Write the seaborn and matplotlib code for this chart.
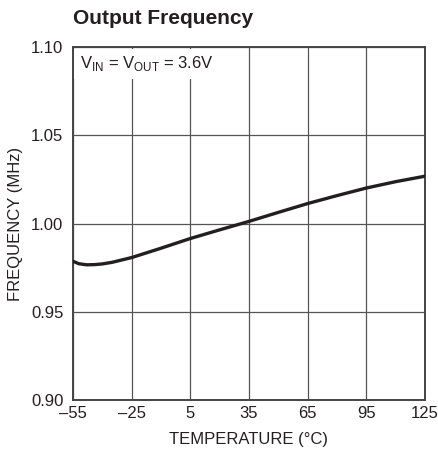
import matplotlib
matplotlib.use("Agg")
import matplotlib.pyplot as plt
import seaborn as sns
import pandas as pd
from matplotlib import font_manager

temperature = [-55, -52, -48, -44, -40, -35, -25, -10, 5, 20, 35, 50, 65, 80, 95, 110, 125]
frequency = [0.9786, 0.9772, 0.9766, 0.9767, 0.9771, 0.9780, 0.9807, 0.9860, 0.9915, 0.9964, 1.0012, 1.0063, 1.0113, 1.0158, 1.0201, 1.0237, 1.0268]
x_ticks = [-55, -25, 5, 35, 65, 95, 125]
x_labels = ["–55", "–25", "5", "35", "65", "95", "125"]
y_ticks = [0.90, 0.95, 1.00, 1.05, 1.10]
y_labels = ["0.90", "0.95", "1.00", "1.05", "1.10"]

sns.set_style("white")
names = {f.name for f in font_manager.fontManager.ttflist}
fam = "Liberation Sans Narrow" if "Liberation Sans Narrow" in names else "Liberation Sans"
plt.rcParams['font.family'] = [fam, 'DejaVu Sans']
plt.rcParams['mathtext.fontset'] = 'custom'
plt.rcParams['mathtext.rm'] = fam

df = pd.DataFrame({"temperature": temperature, "frequency": frequency})

fig = plt.figure(figsize=(4.38, 4.58), dpi=100)
ax = fig.add_axes([73/438, 1-400/458, 352/438, 353/458])
sns.lineplot(data=df, x="temperature", y="frequency", ax=ax, color="#231f20", linewidth=2.4, zorder=5)

ax.set_xlim(-55, 125)
ax.set_ylim(0.90, 1.10)
ax.set_xticks(x_ticks)
ax.set_xticklabels(x_labels)
ax.set_yticks(y_ticks)
ax.set_yticklabels(y_labels)
ax.tick_params(axis='x', length=0, labelsize=12, colors="#231f20", pad=4)
ax.tick_params(axis='y', length=0, labelsize=12, colors="#231f20", pad=7)
ax.grid(True, color="#555555", linewidth=0.9)
for s in ax.spines.values():
    s.set_color("#444444")
    s.set_linewidth(1.4)
    s.set_visible(True)
ax.set_xlabel("TEMPERATURE (°C)", fontsize=12, color="#231f20", labelpad=8)
ax.set_ylabel("FREQUENCY (MHz)", fontsize=12, color="#231f20", labelpad=6)

ax.text(-51.5, 1.096, r"V$_{\mathrm{IN}}$ = V$_{\mathrm{OUT}}$ = 3.6V", fontsize=12, color="#231f20",
        va="top", ha="left", zorder=6,
        bbox=dict(facecolor="white", edgecolor="none", pad=4))

fig.text(73/438, 1-18/458, "Output Frequency", fontsize=15, fontweight="bold", color="#231f20",
         ha="left", va="center")

fig.savefig("out.png", dpi=100)
